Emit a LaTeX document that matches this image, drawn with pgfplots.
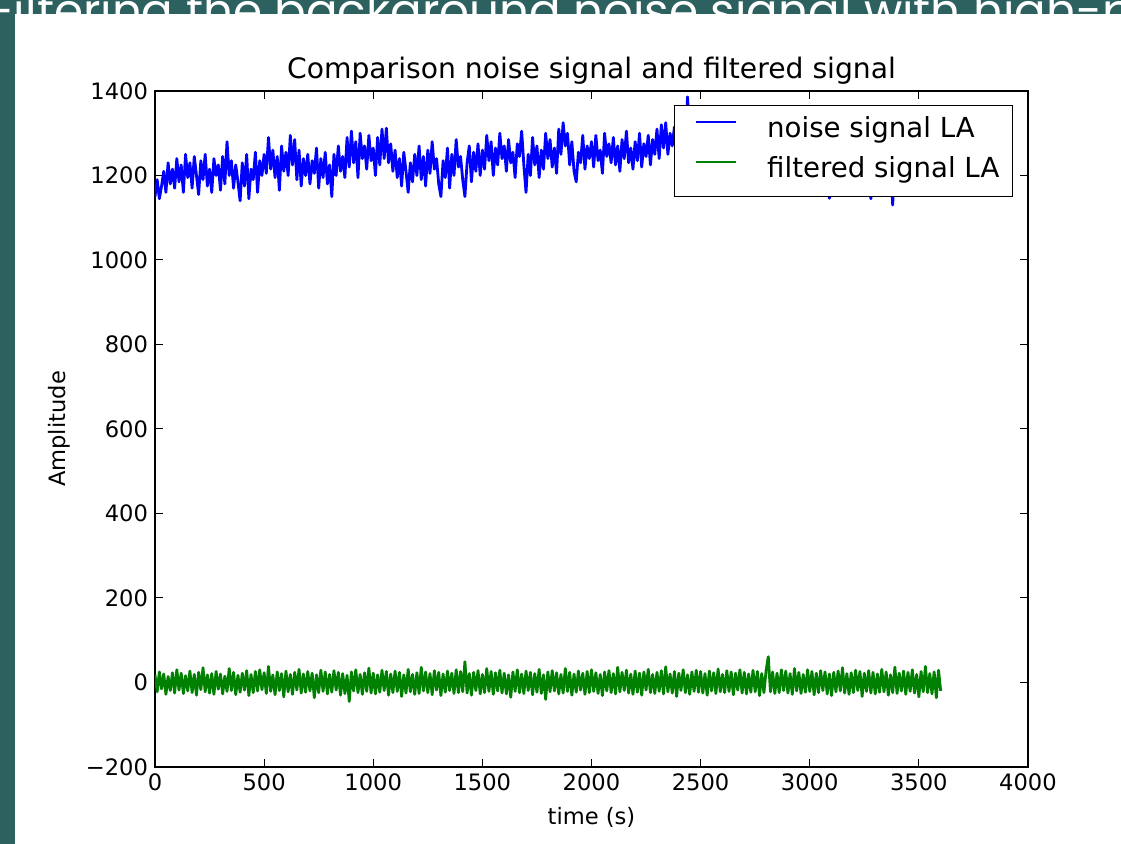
\documentclass[border=0pt]{standalone}
\usepackage{fontspec}
\setmainfont{DejaVu Sans}
\newfontfamily\headfont{Poppins}
\usepackage{pgfplots}
\pgfplotsset{compat=1.18}
\definecolor{slideteal}{RGB}{45,97,96}
\definecolor{mplgreen}{RGB}{0,128,0}
\begin{document}
\begin{tikzpicture}[x=1pt,y=1pt]
\useasboundingbox (0,0) rectangle (560.5,422);
\fill[slideteal] (0,0) rectangle (560.5,422);
\begin{scope}
\clip (0,0) rectangle (560.5,422);
\node[anchor=base west, inner sep=0pt, text=white, font=\headfont\fontsize{23.4}{28}\selectfont] at (-5,408) {Filtering the background noise signal with high-pass filter};
\end{scope}
\fill[white] (7.5,0) rectangle (560.5,415);
\begin{axis}[
  scale only axis, width=436.5pt, height=338pt,
  at={(77.5pt,38.5pt)}, anchor=south west,
  xmin=0, xmax=4000, ymin=-200, ymax=1400,
  xtick={0,500,1000,1500,2000,2500,3000,3500,4000},
  xticklabels={0,500,1000,1500,2000,2500,3000,3500,4000},
  ytick={-200,0,200,400,600,800,1000,1200,1400},
  yticklabels={−200,0,200,400,600,800,1000,1200,1400},
  tick align=inside, xtick pos=both, ytick pos=both,
  major tick length=4pt,
  tick style={black, line width=0.5pt},
  axis line style={line width=0.75pt},
  ticklabel style={font=\fontsize{11.3}{13}\selectfont},
  label style={font=\fontsize{11.3}{13}\selectfont},
  title={Comparison noise signal and filtered signal},
  title style={font=\fontsize{14.1}{16}\selectfont, at={(axis description cs:0.5,1.0192)}, anchor=base, yshift=-6pt},
  xlabel={time (s)},
  xlabel style={at={(axis description cs:0.5,-0.0858)}, anchor=base},
  ylabel={Amplitude},
  ylabel style={at={(axis description cs:-0.1025,0.5)}, anchor=base},
  legend cell align=left,
  legend style={at={(axis description cs:0.9828,0.9793)}, anchor=north east,
    draw=black, line width=0.6pt, fill=white,
    inner xsep=6.5pt, inner ysep=6pt, row sep=6.5pt, column sep=15pt,
    font=\fontsize{13.8}{16}\selectfont,
    nodes={inner sep=0pt, text height=10pt, text depth=3.5pt}},
  legend image code/.code={\path (0pt,0pt) (23.5pt,0pt); \draw[#1,line width=0.7pt] (3.5pt,4.5pt) -- (23.5pt,4.5pt);},
]
\addplot[blue, line width=1.4pt, line join=round] coordinates {
(0,1150)(10,1190)(20,1145)(30,1175)(40,1210)(50,1160)(60,1230)(70,1180)(80,1215)(90,1170)
(100,1240)(110,1185)(120,1225)(130,1160)(140,1250)(150,1195)(160,1230)(170,1170)(180,1245)(190,1200)
(200,1155)(210,1235)(220,1190)(230,1250)(240,1175)(250,1215)(260,1160)(270,1240)(280,1200)(290,1225)
(300,1165)(310,1245)(320,1180)(330,1280)(340,1200)(350,1235)(360,1170)(370,1225)(380,1185)(390,1140)
(400,1230)(410,1175)(420,1250)(430,1145)(440,1215)(450,1190)(460,1255)(470,1160)(480,1235)(490,1200)
(500,1250)(510,1205)(520,1290)(530,1215)(540,1260)(550,1195)(560,1245)(570,1165)(580,1270)(590,1210)
(600,1255)(610,1200)(620,1295)(630,1225)(640,1285)(650,1190)(660,1260)(670,1175)(680,1240)(690,1200)
(700,1250)(710,1180)(720,1235)(730,1205)(740,1265)(750,1170)(760,1240)(770,1195)(780,1255)(790,1180)
(800,1225)(810,1150)(820,1250)(830,1200)(840,1270)(850,1210)(860,1245)(870,1195)(880,1290)(890,1220)
(900,1305)(910,1230)(920,1280)(930,1195)(940,1300)(950,1240)(960,1270)(970,1215)(980,1295)(990,1235)
(1000,1265)(1010,1200)(1020,1290)(1030,1225)(1040,1310)(1050,1240)(1060,1312)(1070,1230)(1080,1275)(1090,1210)
(1100,1260)(1110,1195)(1120,1240)(1130,1175)(1140,1255)(1150,1210)(1160,1160)(1170,1230)(1180,1185)(1190,1250)
(1200,1200)(1210,1270)(1220,1190)(1230,1245)(1240,1175)(1250,1260)(1260,1205)(1270,1280)(1280,1215)(1290,1240)
(1300,1180)(1310,1150)(1320,1235)(1330,1195)(1340,1265)(1350,1170)(1360,1250)(1370,1200)(1380,1285)(1390,1220)
(1400,1245)(1410,1190)(1420,1150)(1430,1230)(1440,1270)(1450,1185)(1460,1255)(1470,1210)(1480,1275)(1490,1200)
(1500,1260)(1510,1215)(1520,1295)(1530,1235)(1540,1280)(1550,1200)(1560,1265)(1570,1225)(1580,1300)(1590,1240)
(1600,1270)(1610,1210)(1620,1285)(1630,1230)(1640,1255)(1650,1195)(1660,1275)(1670,1245)(1680,1305)(1690,1225)
(1700,1160)(1710,1250)(1720,1200)(1730,1290)(1740,1225)(1750,1270)(1760,1195)(1770,1260)(1780,1215)(1790,1300)
(1800,1240)(1810,1285)(1820,1220)(1830,1265)(1840,1205)(1850,1310)(1860,1250)(1870,1325)(1880,1270)(1890,1300)
(1900,1225)(1910,1280)(1920,1210)(1930,1185)(1940,1255)(1950,1230)(1960,1295)(1970,1215)(1980,1270)(1990,1240)
(2000,1280)(2010,1220)(2020,1295)(2030,1235)(2040,1260)(2050,1205)(2060,1300)(2070,1245)(2080,1275)(2090,1230)
(2100,1290)(2110,1225)(2120,1270)(2130,1210)(2140,1285)(2150,1240)(2160,1305)(2170,1230)(2180,1265)(2190,1215)
(2200,1280)(2210,1235)(2220,1300)(2230,1220)(2240,1275)(2250,1245)(2260,1295)(2270,1225)(2280,1285)(2290,1250)
(2300,1310)(2310,1240)(2320,1320)(2330,1265)(2340,1325)(2350,1250)(2360,1300)(2370,1270)(2380,1315)(2390,1255)
(2400,1290)(2410,1260)(2420,1330)(2430,1275)(2440,1386)(2450,1290)(2460,1310)(2470,1265)(2480,1320)(2490,1280)
(2500,1270)(2510,1300)(2520,1245)(2530,1310)(2540,1255)(2550,1290)(2560,1235)(2570,1305)(2580,1260)(2590,1285)
(2600,1240)(2610,1295)(2620,1260)(2630,1315)(2640,1250)(2650,1280)(2660,1230)(2670,1300)(2680,1265)(2690,1290)
(2700,1255)(2710,1310)(2720,1245)(2730,1285)(2740,1270)(2750,1320)(2760,1250)(2770,1295)(2780,1240)(2790,1275)
(2800,1300)(2810,1260)(2820,1290)(2830,1235)(2840,1315)(2850,1255)(2860,1280)(2870,1245)(2880,1305)(2890,1265)
(2900,1285)(2910,1240)(2920,1310)(2930,1250)(2940,1295)(2950,1230)(2960,1275)(2970,1260)(2980,1300)(2990,1245)
(3000,1290)(3010,1255)(3020,1315)(3030,1240)(3040,1280)(3050,1220)(3060,1270)(3070,1235)(3080,1260)(3090,1146)
(3100,1275)(3110,1230)(3120,1300)(3130,1245)(3140,1285)(3150,1250)(3160,1310)(3170,1240)(3180,1290)(3190,1255)
(3200,1270)(3210,1235)(3220,1295)(3230,1250)(3240,1280)(3250,1225)(3260,1265)(3270,1240)(3280,1145)(3290,1260)
(3300,1285)(3310,1245)(3320,1300)(3330,1255)(3340,1275)(3350,1230)(3360,1290)(3370,1250)(3380,1130)(3390,1265)
(3400,1295)(3410,1240)(3420,1280)(3430,1255)(3440,1310)(3450,1235)(3460,1285)(3470,1250)(3480,1300)(3490,1245)
(3500,1275)(3510,1230)(3520,1290)(3530,1260)(3540,1305)(3550,1240)(3560,1280)(3570,1255)(3580,1295)(3590,1250)
(3600,1270)
};
\addlegendentry{noise signal LA}
\addplot[mplgreen, line width=1.4pt, line join=round] coordinates {
(0,18)(10,-22)(20,25)(30,-15)(40,20)(50,-28)(60,14)(70,-19)(80,23)(90,-25)
(100,30)(110,-18)(120,22)(130,-26)(140,16)(150,-20)(160,27)(170,-24)(180,19)(190,-30)
(200,24)(210,-17)(220,35)(230,-22)(240,18)(250,-25)(260,21)(270,-28)(280,26)(290,-16)
(300,20)(310,-27)(320,15)(330,-21)(340,33)(350,-19)(360,24)(370,-29)(380,17)(390,-23)
(400,22)(410,-18)(420,28)(430,-31)(440,19)(450,-24)(460,26)(470,-20)(480,30)(490,-17)
(500,23)(510,-26)(520,38)(530,-21)(540,18)(550,-29)(560,25)(570,-19)(580,21)(590,-34)
(600,27)(610,-22)(620,19)(630,-28)(640,24)(650,-18)(660,31)(670,-25)(680,20)(690,-23)
(700,26)(710,-20)(720,22)(730,-36)(740,18)(750,-24)(760,29)(770,-21)(780,25)(790,-27)
(800,19)(810,-23)(820,28)(830,-18)(840,24)(850,-30)(860,21)(870,-26)(880,17)(890,-45)
(900,25)(910,-20)(920,30)(930,-24)(940,19)(950,-28)(960,23)(970,-21)(980,34)(990,-25)
(1000,22)(1010,-27)(1020,18)(1030,-23)(1040,29)(1050,-19)(1060,26)(1070,-30)(1080,20)(1090,-24)
(1100,27)(1110,-21)(1120,24)(1130,-33)(1140,18)(1150,-25)(1160,31)(1170,-22)(1180,19)(1190,-28)
(1200,23)(1210,-26)(1220,36)(1230,-20)(1240,25)(1250,-24)(1260,21)(1270,-29)(1280,28)(1290,-18)
(1300,24)(1310,-31)(1320,20)(1330,-23)(1340,27)(1350,-19)(1360,22)(1370,-26)(1380,30)(1390,-24)
(1400,26)(1410,-22)(1420,49)(1430,-25)(1440,21)(1450,-30)(1460,24)(1470,-19)(1480,28)(1490,-27)
(1500,19)(1510,-24)(1520,33)(1530,-21)(1540,26)(1550,-28)(1560,23)(1570,-20)(1580,29)(1590,-25)
(1600,22)(1610,-27)(1620,18)(1630,-35)(1640,25)(1650,-21)(1660,30)(1670,-24)(1680,20)(1690,-26)
(1700,27)(1710,-19)(1720,24)(1730,-29)(1740,21)(1750,-23)(1760,31)(1770,-26)(1780,18)(1790,-40)
(1800,25)(1810,-22)(1820,28)(1830,-20)(1840,23)(1850,-27)(1860,19)(1870,-25)(1880,33)(1890,-21)
(1900,24)(1910,-30)(1920,20)(1930,-23)(1940,27)(1950,-18)(1960,22)(1970,-28)(1980,26)(1990,-24)
(2000,30)(2010,-21)(2020,23)(2030,-26)(2040,19)(2050,-31)(2060,25)(2070,-20)(2080,28)(2090,-24)
(2100,21)(2110,-27)(2120,36)(2130,-22)(2140,24)(2150,-19)(2160,29)(2170,-25)(2180,20)(2190,-28)
(2200,27)(2210,-23)(2220,22)(2230,-30)(2240,25)(2250,-18)(2260,31)(2270,-24)(2280,19)(2290,-26)
(2300,24)(2310,-21)(2320,28)(2330,-27)(2340,37)(2350,-22)(2360,20)(2370,-25)(2380,26)(2390,-33)
(2400,22)(2410,-19)(2420,30)(2430,-24)(2440,18)(2450,-28)(2460,25)(2470,-21)(2480,29)(2490,-23)
(2500,26)(2510,-25)(2520,21)(2530,-30)(2540,27)(2550,-20)(2560,23)(2570,-26)(2580,32)(2590,-22)
(2600,19)(2610,-24)(2620,28)(2630,-21)(2640,25)(2650,-29)(2660,22)(2670,-18)(2680,30)(2690,-25)
(2700,24)(2710,-27)(2720,20)(2730,-23)(2740,29)(2750,-22)(2760,26)(2770,-31)(2780,21)(2790,-24)
(2800,28)(2810,61)(2820,-22)(2830,25)(2840,-26)(2850,22)(2860,-24)(2870,30)(2880,-19)(2890,27)
(2900,-25)(2910,21)(2920,-28)(2930,33)(2940,-20)(2950,24)(2960,-26)(2970,19)(2980,-23)(2990,30)
(3000,-21)(3010,26)(3020,-29)(3030,22)(3040,-24)(3050,28)(3060,-19)(3070,25)(3080,-27)(3090,20)
(3100,-31)(3110,24)(3120,-22)(3130,27)(3140,-20)(3150,35)(3160,-25)(3170,21)(3180,-28)(3190,23)
(3200,-24)(3210,29)(3220,-19)(3230,26)(3240,-33)(3250,22)(3260,-21)(3270,28)(3280,-25)(3290,24)
(3300,-27)(3310,20)(3320,-23)(3330,31)(3340,-22)(3350,25)(3360,-30)(3370,18)(3380,-24)(3390,36)
(3400,-26)(3410,22)(3420,-20)(3430,27)(3440,-28)(3450,24)(3460,-21)(3470,30)(3480,-25)(3490,19)
(3500,-34)(3510,26)(3520,-22)(3530,38)(3540,-24)(3550,21)(3560,-27)(3570,25)(3580,-36)(3590,29)
(3600,-20)
};
\addlegendentry{filtered signal LA}
\end{axis}
\end{tikzpicture}
\end{document}
